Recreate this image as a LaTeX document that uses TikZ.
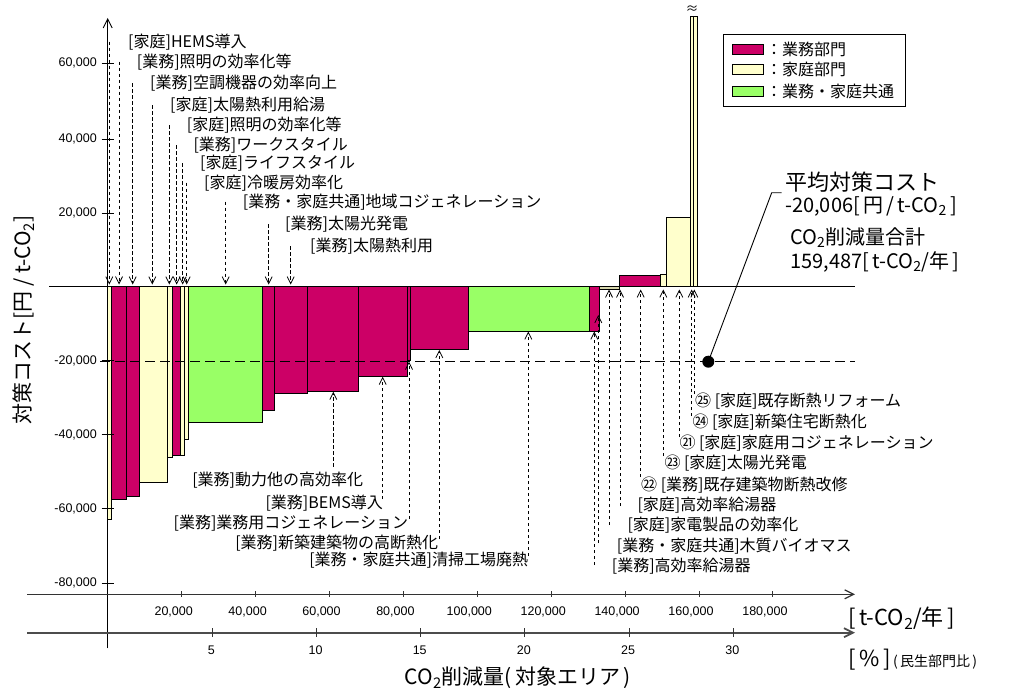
\documentclass[tikz,border=0pt]{standalone}
\usepackage{fontspec}
\setmainfont{Noto Sans CJK JP}
\newfontfamily\numfont{Liberation Sans}
\usetikzlibrary{arrows.meta}

\definecolor{gyomu}{RGB}{204,0,102}
\definecolor{katei}{RGB}{255,255,204}
\definecolor{kyotsu}{RGB}{153,255,102}
\definecolor{sonota}{RGB}{214,214,172}
\newcommand{\cotwo}{CO\textsubscript{2}}

\tikzset{
  bar/.style={draw=black, line width=0.9pt},
  lbl/.style={font=\fontsize{16}{18}\selectfont, inner sep=0pt},
  ticklbl/.style={font=\numfont\fontsize{12.5}{14}\selectfont, inner sep=0pt},
  biglbl/.style={font=\fontsize{20}{23}\selectfont, inner sep=0pt},
  pointer/.style={dash pattern=on 3.5pt off 2.5pt, line width=0.8pt, -{Straight Barb[length=7pt,width=7pt]}},
  axisarrow/.style={-{Straight Barb[length=9pt,width=9pt]}},
}

\begin{document}
\begin{tikzpicture}[x=1pt, y=-1pt]
\useasboundingbox (0,0) rectangle (1010,693);

% bars: left, right, end of bar, colour
\foreach \xa/\xb/\yb/\col in {
  107.7/111.7/519.3/katei, 111.7/126.7/499.3/gyomu, 126.7/139/496.7/gyomu,
  139/167.7/482.3/katei, 167.7/172.3/457.7/katei, 172.3/180/455/gyomu,
  180/184.3/455/katei, 184.3/188.3/439/katei, 188.3/262.3/422.3/kyotsu,
  262.3/274/410.7/gyomu, 274/307.7/393.3/gyomu, 307.7/358.7/391.7/gyomu,
  358.7/407.7/376.7/gyomu, 407.7/410.7/360/gyomu, 410.7/468.3/349.3/gyomu,
  468.3/589.3/331.5/kyotsu, 589.3/599/331.5/gyomu, 599/619.3/289.3/sonota,
  619.3/660.3/275.7/gyomu, 660.3/666/274/katei, 666/690.7/217.3/katei,
  690.7/693.3/16/katei, 693.3/697.3/16/katei}
  \draw[bar, fill=\col] (\xa,286.7) rectangle (\xb,\yb);
\node[font=\fontsize{13}{14}\selectfont, inner sep=0pt] (cut) at (692,10) {≈};

% zero line and average cost
\draw[line width=0.9pt] (49,286.7) -- (855,286.7);
\draw[dash pattern=on 10pt off 5pt, line width=0.9pt] (100,361.7) -- (855,361.7);

% y axis
\coordinate (yfoot) at (107.7,648.3);
\coordinate (ytop) at (107.7,18);
\draw[axisarrow, line width=0.9pt] (yfoot) -- (ytop);
\foreach \yy/\txt in {63.3/{60,000}, 139/{40,000}, 213/{20,000}, 360.7/{-20,000},
  434.7/{-40,000}, 508.7/{-60,000}, 583/{-80,000}} {
  \draw[line width=0.9pt] (101.7,\yy) -- (114,\yy);
  \node[ticklbl, anchor=east] at (97,\yy) {\txt};
}
\node[rotate=90, font=\fontsize{21}{24}\selectfont, inner sep=0pt] (ytitle) at (24,320) {対策コスト[円 / t-\cotwo]};

% x axes
\coordinate (xaleft) at (27.3,594.3);
\coordinate (xaright) at (855,594.3);
\draw[axisarrow, line width=1.2pt, black!80] (xaleft) -- (xaright);
\foreach \k/\txt in {1/{20,000}, 2/{40,000}, 3/{60,000}, 4/{80,000}, 5/{100,000},
  6/{120,000}, 7/{140,000}, 8/{160,000}, 9/{180,000}} {
  \draw[line width=1pt, black!80] (107.8+73.9*\k,591.3) -- (107.8+73.9*\k,597.3);
  \node[ticklbl] at (99.8+73.9*\k,612.3) {\txt};
}
\coordinate (xbleft) at (27.3,632.7);
\coordinate (xbright) at (855,632.7);
\draw[axisarrow, line width=1.8pt, black!70] (xbleft) -- (xbright);
\foreach \k in {5,10,...,30} {
  \draw[line width=1pt, black!80] (108.1+20.84*\k,628.2) -- (108.1+20.84*\k,637.2);
  \node[ticklbl] at (107.1+20.84*\k,650) {\k};
}
\node[font=\fontsize{22}{25}\selectfont, inner sep=0pt, anchor=west] (unitt) at (848,618.3) {[\,t-\cotwo/年\,]};
\node[font=\fontsize{22}{25}\selectfont, inner sep=0pt, anchor=west] (unitp) at (848,660) {[\,\%\,]\fontsize{14}{16}\selectfont\,(\,民生部門比\,)};
\node[font=\fontsize{21}{24}\selectfont, inner sep=0pt] (xtitle) at (518,678) {\cotwo 削減量(\,対象エリア\,)};

% labels above
\foreach \n/\lx/\tx/\ty/\txt in {
  1/109.3/128/41.7/{[家庭]HEMS導入},
  2/119/136.7/61.7/{[業務]照明の効率化等},
  3/132.7/150/83.3/{[業務]空調機器の効率向上},
  4/152.3/170/105/{[家庭]太陽熱利用給湯},
  5/169.3/186.7/125/{[家庭]照明の効率化等},
  6/176.7/193.3/145/{[業務]ワークスタイル},
  7/182.7/200/163.3/{[家庭]ライフスタイル},
  8/186.7/204/182.7/{[家庭]冷暖房効率化},
  9/225.7/242.7/201.7/{[業務・家庭共通]地域コジェネレーション},
  10/268.7/285/224/{[業務]太陽光発電},
  11/290.7/310/246/{[業務]太陽熱利用}} {
  \node[lbl, anchor=west] (up\n) at (\tx,\ty) {\txt};
  \coordinate (upfoot\n) at (\lx,\ty);
  \coordinate (uphead\n) at (\lx,284.5);
  \draw[pointer] (upfoot\n) -- (uphead\n);
}

% labels below, left group
\foreach \n/\lx/\fy/\tip/\tx/\ty/\txt in {
  1/333.3/466.7/391.7/363.3/480/{[業務]動力他の高効率化},
  2/382.7/499/376.7/383/503.3/{[業務]BEMS導入},
  3/409/519/361.7/408.3/523.3/{[業務]業務用コジェネレーション},
  4/439.3/539/350/438.3/543.3/{[業務]新築建築物の高断熱化},
  5/528.3/556/331.5/528.3/560/{[業務・家庭共通]清掃工場廃熱}} {
  \node[lbl, anchor=east] (low\n) at (\tx,\ty) {\txt};
  \coordinate (lowfoot\n) at (\lx,\fy);
  \coordinate (lowhead\n) at (\lx,\tip);
  \draw[pointer] (lowfoot\n) -- (lowhead\n);
}

% labels below, right group
\foreach \n/\lx/\fy/\tip/\tx/\ty/\txt in {
  1/594.3/565/331.5/611.7/566/{[業務]高効率給湯器},
  2/598.3/543/315/616.7/545.7/{[業務・家庭共通]木質バイオマス},
  3/609/525/289.5/627.3/525/{[家庭]家電製品の効率化},
  4/620/506/289.5/637.3/505/{[家庭]高効率給湯器},
  5/640.7/477/289.5/641/485/{㉒ [業務]既存建築物断熱改修},
  6/663.3/456/289.5/664.3/463.3/{㉓ [家庭]太陽光発電},
  7/679.3/437/289.5/679.3/443.3/{㉑ [家庭]家庭用コジェネレーション},
  8/691.7/416/289.5/692.3/422.3/{㉔ [家庭]新築住宅断熱化},
  9/694.3/394/289.5/695/400.7/{㉕ [家庭]既存断熱リフォーム}} {
  \node[lbl, anchor=west] (rlow\n) at (\tx,\ty) {\txt};
  \coordinate (rlowfoot\n) at (\lx,\fy);
  \coordinate (rlowhead\n) at (\lx,\tip);
  \draw[pointer] (rlowfoot\n) -- (rlowhead\n);
}

% legend
\draw[line width=0.9pt] (723.3,34.3) rectangle (905.7,106.7);
\foreach \n/\yy/\col/\txt in {1/49.2/gyomu/{：業務部門}, 2/69.5/katei/{：家庭部門}, 3/91/kyotsu/{：業務・家庭共通}} {
  \draw[bar, fill=\col] (732.7,\yy-5) rectangle (763.3,\yy+5);
  \node[lbl, anchor=west] (leg\n) at (766,\yy) {\txt};
}

% average cost note
\node[circle, fill, inner sep=0pt, minimum size=12pt] (avgdot) at (708.3,361.7) {};
\coordinate (avgknee) at (771.7,192.7);
\coordinate (avgend) at (781.7,192.7);
\draw[line width=0.9pt] (avgdot.center) -- (avgknee) -- (avgend);
\node[font=\fontsize{22}{25}\selectfont, inner sep=0pt, anchor=west] (avgname) at (785,182) {平均対策コスト};
\node[biglbl, anchor=west] (avgval) at (785,206.7) {-20,006[\,円\,/\,t-\cotwo\,]};
\node[biglbl, anchor=west] (sumname) at (790,238) {\cotwo 削減量合計};
\node[biglbl, anchor=west] (sumval) at (790,262) {159,487[\,t-\cotwo/年\,]};
\end{tikzpicture}
\end{document}
